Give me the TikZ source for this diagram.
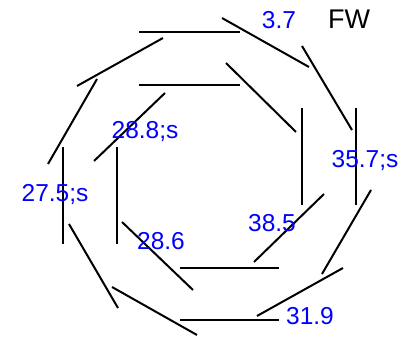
\documentclass[tikz,border=0pt]{standalone}
\usepackage{fontspec}
\setmainfont{Liberation Sans}
\begin{document}
\begin{tikzpicture}[x=1pt,y=-1pt,
  wall/.style={line width=2pt,black},
  lbl/.style={anchor=base,inner sep=0pt,text=blue,font=\fontsize{24.5}{28}\selectfont},
  tag/.style={anchor=base,inner sep=0pt,text=black,font=\fontsize{27}{30}\selectfont}]
\useasboundingbox (0,0) rectangle (416,339);
% outer ring
\draw[wall] (139,32) -- (240,32);
\draw[wall] (222,18) -- (309,67);
\draw[wall] (302,46) -- (352,130);
\draw[wall] (356,108) -- (356,205);
\draw[wall] (371,190) -- (322,274);
\draw[wall] (343,268) -- (257,316);
\draw[wall] (180,320) -- (279,320);
\draw[wall] (197,335) -- (112,287);
\draw[wall] (118,308) -- (69,224);
\draw[wall] (63,147) -- (63,244);
\draw[wall] (48,164) -- (97,79);
\draw[wall] (77,86) -- (163,38);
% inner ring
\draw[wall] (139,85) -- (240,85);
\draw[wall] (226,63) -- (296,132);
\draw[wall] (302,108) -- (302,205);
\draw[wall] (324,194) -- (254,262);
\draw[wall] (180,268) -- (279,268);
\draw[wall] (193,290) -- (122,222);
\draw[wall] (117,147) -- (117,244);
\draw[wall] (94,161) -- (165,93);
% labels
\node[lbl] (l37) at (279,29) {3.7};
\node[tag] (fw) at (349,29) {FW};
\node[lbl] (l357) at (365,168) {35.7;s};
\node[lbl] (l288) at (145,139) {28.8;s};
\node[lbl] (l275) at (55,202) {27.5;s};
\node[lbl] (l286) at (161,250) {28.6};
\node[lbl] (l385) at (272,232) {38.5};
\node[lbl] (l319) at (310,325) {31.9};
\end{tikzpicture}
\end{document}
